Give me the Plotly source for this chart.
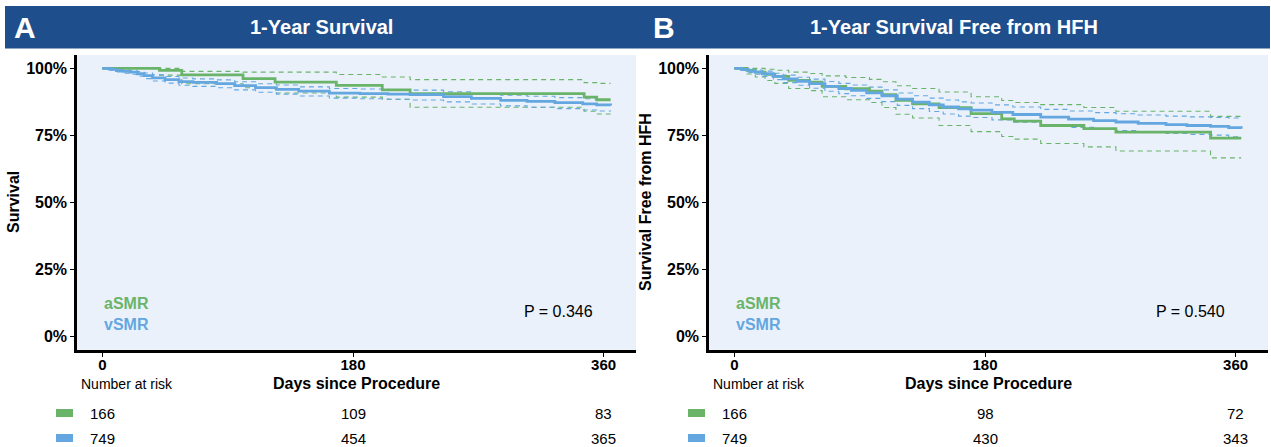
import plotly.graph_objects as go

# ---------------- data ----------------
panel_titles = ["1-Year Survival", "1-Year Survival Free from HFH"]
panel_letters = ["A", "B"]
y_titles = ["Survival", "Survival Free from HFH"]
x_title = "Days since Procedure"
groups = ["aSMR", "vSMR"]
p_values = ["P = 0.346", "P = 0.540"]
x_ticks = [0, 180, 360]
y_ticks = [0, 25, 50, 75, 100]
y_tick_labels = ["0%", "25%", "50%", "75%", "100%"]

# Panel A - aSMR
A_green_t = [0, 41, 57, 101, 124, 168, 201, 221, 346, 355, 365]
A_green_s = [100, 99.3, 97.6, 96.2, 94.9, 93.7, 92.0, 90.6, 89.3, 88.3, 88.3]
A_green_up = [100, 100, 98.9, 98.6, 98.6, 97.7, 96.8, 95.8, 94.7, 94.4, 94.4]
A_green_lo = [100, 97.5, 94.3, 92.8, 90.8, 89.3, 88.5, 85.5, 84.0, 83.0, 83.0]
# Panel A - vSMR
A_blue_t = [0, 5, 10, 15, 20, 25, 30, 36, 45, 55, 65, 82, 95, 110, 125, 141, 163, 185, 205, 221, 245, 265, 286, 305, 325, 345, 355, 365]
A_blue_s = [100, 99.7, 99.2, 98.9, 98.6, 98.0, 97.3, 96.5, 95.8, 95.1, 94.8, 94.3, 93.6, 92.8, 92.2, 91.5, 90.8, 90.6, 90.4, 90.2, 89.5, 88.8, 88.1, 87.7, 87.2, 86.8, 86.4, 86.2]
A_blue_up = [100, 100, 99.6, 99.4, 99.2, 98.8, 98.3, 97.6, 97.0, 96.4, 96.1, 95.7, 95.0, 94.3, 93.8, 93.1, 92.5, 92.3, 92.1, 91.9, 91.3, 90.6, 90.0, 89.6, 89.1, 88.7, 88.4, 88.3]
A_blue_lo = [100, 99.3, 98.7, 98.2, 97.8, 97.1, 96.2, 95.3, 94.5, 93.7, 93.3, 92.8, 92.0, 91.1, 90.4, 89.7, 88.9, 88.7, 88.5, 88.2, 87.5, 86.7, 86.0, 85.5, 85.0, 84.5, 84.1, 83.9]

# Panel B - aSMR
B_green_t = [0, 9, 15, 22, 29, 39, 54, 63, 80, 97, 106, 116, 128, 147, 170, 192, 201, 220, 251, 274, 342, 364]
B_green_s = [100, 99.3, 98.6, 97.8, 97.0, 95.5, 94.9, 93.3, 92.4, 91.5, 90.2, 88.1, 86.8, 85.4, 83.1, 81.2, 80.3, 78.7, 77.5, 76.2, 74.0, 74.0]
B_green_up = [100, 100, 100, 99.7, 99.3, 98.6, 98.1, 97.2, 96.6, 95.9, 95.0, 93.5, 92.5, 91.2, 89.4, 88.0, 87.3, 86.5, 85.4, 84.0, 82.1, 82.1]
B_green_lo = [100, 97.9, 96.8, 95.5, 94.4, 92.5, 91.7, 89.4, 88.3, 87.3, 85.4, 82.9, 81.5, 78.7, 76.4, 74.6, 73.6, 72.0, 70.7, 69.2, 66.6, 66.6]
# Panel B - vSMR
B_blue_t = [0, 5, 10, 15, 20, 28, 35, 45, 54, 65, 75, 84, 95, 106, 117, 128, 140, 150, 161, 170, 185, 200, 220, 240, 258, 274, 290, 310, 325, 342, 355, 364]
B_blue_s = [100, 99.6, 99.1, 98.6, 98.0, 97.0, 96.1, 95.2, 94.3, 93.3, 92.5, 91.8, 90.9, 89.8, 88.5, 87.4, 86.4, 85.6, 84.9, 84.4, 83.6, 82.8, 81.8, 81.1, 80.5, 80.0, 79.5, 79.0, 78.7, 78.4, 77.9, 77.5]
B_blue_up = [100, 100, 99.7, 99.4, 99.0, 98.2, 97.5, 96.7, 96.0, 95.1, 94.4, 93.8, 93.0, 92.0, 90.8, 89.8, 88.9, 88.2, 87.5, 87.1, 86.4, 85.6, 84.7, 84.1, 83.5, 83.1, 82.6, 82.2, 81.9, 81.7, 81.5, 81.2]
B_blue_lo = [100, 99.2, 98.5, 97.8, 97.0, 95.8, 94.7, 93.7, 92.6, 91.5, 90.6, 89.8, 88.8, 87.6, 86.2, 85.0, 83.9, 83.0, 82.2, 81.7, 80.8, 79.9, 78.8, 78.0, 77.4, 76.8, 76.3, 75.7, 75.4, 75.1, 74.5, 74.1]

# Numbers at risk
risk_days = [0, 180, 360]
A_risk_green = [166, 109, 83]
A_risk_blue = [749, 454, 365]
B_risk_green = [166, 98, 72]
B_risk_blue = [749, 430, 343]

# ---------------- style ----------------
W, H = 1271, 447
GREEN = "#6AB46A"
BLUE = "#64A7E0"
HEADER = "#1E4E8C"
PLOTBG = "#EAF1FB"
FONT = "Liberation Sans, Arial, sans-serif"


def px(x):
    return x / W


def py(y):
    return 1 - y / H


x_domains = [[px(77), px(636)], [px(709), px(1268)]]
y_domain = [py(349.8), py(55)]

fig = go.Figure()

panels = [
    (A_green_t, A_green_s, A_green_up, A_green_lo, A_blue_t, A_blue_s, A_blue_up, A_blue_lo, A_risk_green, A_risk_blue),
    (B_green_t, B_green_s, B_green_up, B_green_lo, B_blue_t, B_blue_s, B_blue_up, B_blue_lo, B_risk_green, B_risk_blue),
]

annotations = []
shapes = []

# header bar
shapes.append(dict(type="rect", xref="paper", yref="paper", x0=px(5), x1=px(1270),
                   y0=py(48.5), y1=py(6), fillcolor=HEADER, line=dict(width=0), layer="below"))

for i, (gt, gs, gu, gl, bt, bs, bu, bl, rg, rb) in enumerate(panels):
    xa = "x" if i == 0 else "x2"
    ya = "y" if i == 0 else "y2"
    for t, s, u, l, col, name in [(gt, gs, gu, gl, GREEN, groups[0]), (bt, bs, bu, bl, BLUE, groups[1])]:
        for ci in (u, l):
            fig.add_trace(go.Scatter(x=t, y=ci, mode="lines", line=dict(color=col, width=1.1, dash="5px,4px", shape="hv"),
                                     xaxis=xa, yaxis=ya, showlegend=False, hoverinfo="skip"))
    for t, s, col, name in [(gt, gs, GREEN, groups[0]), (bt, bs, BLUE, groups[1])]:
        fig.add_trace(go.Scatter(x=t, y=s, mode="lines", line=dict(color=col, width=2.8, shape="hv"),
                                 xaxis=xa, yaxis=ya, name=name, showlegend=False))

    xc = (x_domains[i][0] + x_domains[i][1]) / 2
    # titles in header
    hc = [px((5 + 638) / 2), px((640 + 1268) / 2)][i]
    annotations.append(dict(text="<b>%s</b>" % panel_titles[i], xref="paper", yref="paper", x=hc, y=py(27),
                            showarrow=False, font=dict(family=FONT, size=20, color="white"), xanchor="center", yanchor="middle"))
    annotations.append(dict(text="<b>%s</b>" % panel_letters[i], xref="paper", yref="paper", x=px([12, 651][i]), y=py(27.5),
                            showarrow=False, font=dict(family=FONT, size=30, color="white"), xanchor="left", yanchor="middle"))
    # y title
    annotations.append(dict(text="<b>%s</b>" % y_titles[i], xref="paper", yref="paper", x=px([14, 646][i]), y=py(202),
                            showarrow=False, textangle=-90, font=dict(family=FONT, size=16, color="black"),
                            xanchor="center", yanchor="middle"))
    # x title
    annotations.append(dict(text="<b>%s</b>" % x_title, xref="paper", yref="paper", x=xc, y=py(383),
                            showarrow=False, font=dict(family=FONT, size=16, color="black"), xanchor="center", yanchor="middle"))
    # group labels
    for j, (g, col) in enumerate(zip(groups, [GREEN, BLUE])):
        annotations.append(dict(text="<b>%s</b>" % g, xref=xa, yref="paper", x=0, y=py([303, 324][j]),
                                showarrow=False, font=dict(family=FONT, size=16, color=col), xanchor="left", yanchor="middle"))
    # p value
    annotations.append(dict(text=p_values[i], xref="paper", yref="paper", x=px([558, 1190][i]), y=py(311),
                            showarrow=False, font=dict(family=FONT, size=16, color="black"), xanchor="center", yanchor="middle"))
    # number at risk
    annotations.append(dict(text="Number at risk", xref="paper", yref="paper", x=px([79, 711][i]), y=py(384),
                            showarrow=False, font=dict(family=FONT, size=14, color="black"), xanchor="left", yanchor="middle"))
    for j, (row, col) in enumerate([(rg, GREEN), (rb, BLUE)]):
        yy = [413, 438][j]
        for d, n in zip(risk_days, row):
            annotations.append(dict(text=str(n), xref=xa, yref="paper", x=d, y=py(yy),
                                    showarrow=False, font=dict(family=FONT, size=15, color="black"),
                                    xanchor="center", yanchor="middle"))
        kx0 = [56, 688][i]
        shapes.append(dict(type="rect", xref="paper", yref="paper", x0=px(kx0), x1=px(kx0 + 17),
                           y0=py(yy + 4), y1=py(yy - 4), fillcolor=col, line=dict(width=0)))

axis_common = dict(range=[-18.25, 383.25], tickvals=x_ticks, ticks="outside", ticklen=4, tickwidth=1, tickcolor="black",
                   showline=True, linewidth=2.5, linecolor="black", showgrid=False, zeroline=False,
                   ticklabelstandoff=-5,
                   tickfont=dict(family=FONT, size=15, color="black", weight="bold"), fixedrange=True)
yaxis_common = dict(range=[-5, 105], tickvals=y_ticks, ticktext=y_tick_labels, ticks="outside", ticklen=4, tickwidth=1,
                    tickcolor="black", showline=True, linewidth=2.5, linecolor="black", showgrid=False, zeroline=False,
                    tickfont=dict(family=FONT, size=16, color="black", weight="bold"), domain=y_domain, fixedrange=True)

fig.update_layout(
    width=W, height=H, autosize=False,
    margin=dict(l=0, r=0, t=0, b=0),
    paper_bgcolor="white", plot_bgcolor=PLOTBG,
    xaxis=dict(domain=x_domains[0], anchor="y", **axis_common),
    yaxis=dict(anchor="x", **yaxis_common),
    xaxis2=dict(domain=x_domains[1], anchor="y2", **axis_common),
    yaxis2=dict(anchor="x2", **yaxis_common),
    annotations=annotations, shapes=shapes, showlegend=False,
)

fig.write_html("out.html", config={"displayModeBar": False},
               post_script="document.body.style.margin='0';document.body.style.overflow='hidden';")
